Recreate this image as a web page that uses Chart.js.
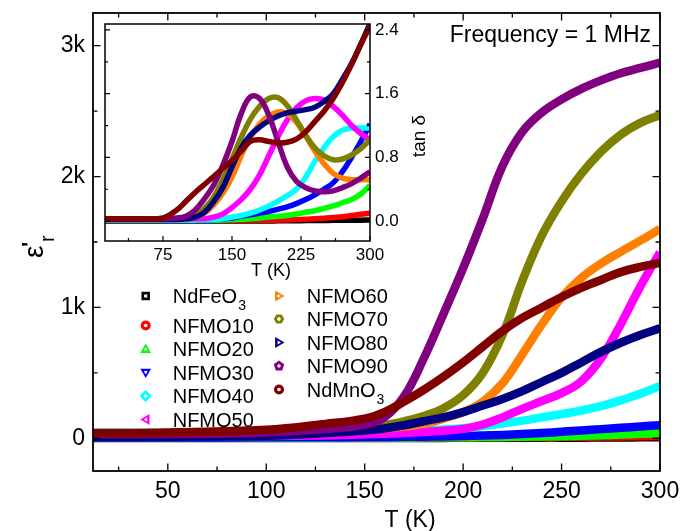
<!DOCTYPE html>
<html>
<head>
<meta charset="utf-8">
<script src="https://cdn.jsdelivr.net/npm/chart.js@4.4.1/dist/chart.umd.min.js"></script>
<style>
  body { margin: 0; background: #fff; }
  #wrap { position: relative; width: 685px; height: 531px; }
  #wrap canvas { position: absolute; left: 0; top: 0; }
</style>
</head>
<body>
<div id="wrap">
  <canvas id="main" width="685" height="531"></canvas>
  <canvas id="inset" width="685" height="531"></canvas>
</div>
<script>
// ---------- data: main plot, eps'_r vs T ----------
const seriesNames = ['NdFeO3', 'NFMO10', 'NFMO20', 'NFMO30', 'NFMO40', 'NFMO50',
                     'NFMO60', 'NFMO70', 'NFMO80', 'NFMO90', 'NdMnO3'];
const seriesColors = ['#000000', '#ff0000', '#00ff00', '#0000ff', '#00ffff', '#ff00ff',
                      '#ff8000', '#808000', '#000080', '#800080', '#800000'];

const tMain = [12, 50, 100, 130, 150, 160, 170, 180, 190, 200, 210, 220, 230, 240, 250, 260, 270, 280, 290, 300];
const epsNdFeO3 = [3, 3, 3, 3, 3, 3, 3, 3, 3, 4, 4, 4, 4, 5, 5, 5, 6, 6, 7, 8];
const epsNFMO10 = [4, 4, 4, 4, 4, 5, 5, 5, 6, 6, 7, 8, 9, 10, 11, 12, 13, 14, 16, 18];
const epsNFMO20 = [5, 5, 5, 5, 6, 6, 6, 7, 7, 8, 9, 10, 12, 14, 16, 19, 23, 28, 34, 40];
const epsNFMO30 = [6, 6, 7, 8, 9, 10, 11, 12, 14, 17, 21, 26, 32, 40, 50, 60, 70, 80, 90, 100];
const epsNFMO40 = [43, 43, 44, 46, 50, 54, 58, 63, 68, 76, 93, 113, 135, 160, 185, 212, 245, 290, 340, 400];
const epsNFMO50 = [15, 15, 18, 22, 30, 35, 40, 48, 58, 72, 105, 160, 225, 285, 345, 435, 610, 870, 1160, 1420];
const epsNFMO60 = [25, 25, 35, 50, 60, 75, 90, 110, 150, 200, 280, 420, 640, 870, 1075, 1225, 1335, 1425, 1510, 1600];
const epsNFMO70 = [25, 25, 40, 60, 80, 100, 130, 170, 230, 330, 500, 790, 1200, 1550, 1810, 2020, 2190, 2320, 2410, 2470];
const epsNFMO80 = [10, 12, 20, 40, 60, 75, 100, 130, 160, 200, 250, 300, 360, 430, 500, 580, 660, 730, 790, 840];
const epsNFMO90 = [30, 32, 45, 70, 105, 160, 320, 610, 950, 1300, 1680, 2080, 2340, 2490, 2590, 2670, 2735, 2790, 2830, 2870];
const epsNdMnO3 = [40, 45, 65, 110, 150, 200, 280, 370, 470, 580, 700, 820, 920, 1000, 1080, 1150, 1210, 1270, 1310, 1340];

// ---------- data: inset, tan delta vs T ----------
const tInset = [12, 50, 75, 90, 100, 110, 120, 130, 140, 150, 160, 170, 180, 190, 200, 210, 220, 230, 240, 250, 260, 270, 280, 290, 300];
const tanNdFeO3 = [0, 0, 0, 0, 0, 0, 0, 0, 0, 0, 0, 0, 0, 0, 0.003, 0.004, 0.005, 0.006, 0.007, 0.008, 0.009, 0.01, 0.011, 0.012, 0.014];
const tanNFMO10 = [0.01, 0.01, 0.01, 0.01, 0.01, 0.01, 0.01, 0.01, 0.01, 0.01, 0.01, 0.01, 0.01, 0.01, 0.012, 0.015, 0.02, 0.022, 0.03, 0.035, 0.045, 0.055, 0.07, 0.085, 0.1];
const tanNFMO20 = [0.01, 0.01, 0.01, 0.01, 0.01, 0.01, 0.01, 0.012, 0.015, 0.02, 0.022, 0.03, 0.04, 0.05, 0.06, 0.07, 0.09, 0.11, 0.13, 0.16, 0.19, 0.23, 0.27, 0.34, 0.45];
const tanNFMO30 = [0.01, 0.01, 0.01, 0.01, 0.01, 0.012, 0.015, 0.02, 0.03, 0.04, 0.06, 0.08, 0.1, 0.12, 0.15, 0.18, 0.22, 0.27, 0.33, 0.4, 0.48, 0.62, 0.8, 1.0, 1.22];
const tanNFMO40 = [0.01, 0.01, 0.01, 0.01, 0.01, 0.012, 0.015, 0.02, 0.03, 0.05, 0.07, 0.1, 0.14, 0.19, 0.25, 0.32, 0.4, 0.55, 0.75, 0.92, 1.06, 1.14, 1.17, 1.17, 1.17];
const tanNFMO50 = [0.02, 0.02, 0.02, 0.02, 0.02, 0.03, 0.03, 0.05, 0.09, 0.17, 0.27, 0.4, 0.58, 0.82, 1.06, 1.27, 1.42, 1.51, 1.54, 1.52, 1.44, 1.33, 1.2, 1.1, 1.02];
const tanNFMO60 = [0.02, 0.02, 0.02, 0.03, 0.03, 0.05, 0.1, 0.2, 0.35, 0.55, 0.82, 1.05, 1.22, 1.32, 1.37, 1.35, 1.24, 1.07, 0.88, 0.72, 0.6, 0.54, 0.52, 0.52, 0.52];
const tanNFMO70 = [0.03, 0.03, 0.03, 0.03, 0.04, 0.07, 0.16, 0.3, 0.52, 0.78, 1.05, 1.28, 1.44, 1.54, 1.55, 1.45, 1.27, 1.08, 0.92, 0.82, 0.77, 0.78, 0.83, 0.91, 1.02];
const tanNFMO80 = [0.02, 0.02, 0.02, 0.02, 0.03, 0.05, 0.11, 0.24, 0.42, 0.68, 0.92, 1.08, 1.18, 1.26, 1.32, 1.36, 1.38, 1.4, 1.43, 1.5, 1.6, 1.78, 1.98, 2.22, 2.48];
const tanNFMO90 = [0.03, 0.03, 0.03, 0.04, 0.06, 0.14, 0.28, 0.45, 0.7, 1.0, 1.35, 1.56, 1.54, 1.33, 1.0, 0.68, 0.5, 0.42, 0.38, 0.37, 0.38, 0.42, 0.47, 0.54, 0.62];
const tanNdMnO3 = [0.03, 0.03, 0.04, 0.14, 0.25, 0.36, 0.46, 0.56, 0.66, 0.76, 0.88, 1.0, 1.02, 1.0, 0.98, 0.99, 1.03, 1.12, 1.25, 1.38, 1.54, 1.74, 1.97, 2.22, 2.45];

// ---------- ticks ----------
const mainXTicks = [50, 100, 150, 200, 250, 300];
const mainXMinor = [25, 75, 125, 175, 225, 275];
const mainYTicks = [0, 1000, 2000, 3000];
const mainYMinor = [500, 1500, 2500];
const insetXTicks = [75, 150, 225, 300];
const insetXMinor = [37.5, 112.5, 187.5, 262.5];
const insetYTicks = [0, 0.8, 1.6, 2.4];
const insetYMinor = [0.4, 1.2, 2.0];

const epsSeries = [epsNdFeO3, epsNFMO10, epsNFMO20, epsNFMO30, epsNFMO40, epsNFMO50,
                   epsNFMO60, epsNFMO70, epsNFMO80, epsNFMO90, epsNdMnO3];
const tanSeries = [tanNdFeO3, tanNFMO10, tanNFMO20, tanNFMO30, tanNFMO40, tanNFMO50,
                   tanNFMO60, tanNFMO70, tanNFMO80, tanNFMO90, tanNdMnO3];

// legend marker shapes (style only)
const markerShapes = ['square', 'circle', 'triUp', 'triDown', 'diamond', 'triLeft',
                      'triRight', 'hex', 'triRight', 'pent', 'circle'];

const FONT = '"Liberation Sans", Arial, sans-serif';
Chart.defaults.font.family = FONT;
Chart.defaults.color = '#000';

function buildDatasets(xs, series, width) {
  return series.map((vals, i) => ({
    label: seriesNames[i],
    data: xs.map((t, j) => ({ x: t, y: vals[j] })),
    borderColor: seriesColors[i],
    borderWidth: width,
    pointRadius: 0,
    fill: false,
    tension: 0.4,
    clip: 0,
    order: series.length - 1 - i
  }));
}

function drawFrameTicks(chart, spec) {
  const { ctx, chartArea: a } = chart;
  const xs = chart.scales.x, ys = chart.scales.y;
  ctx.save();
  ctx.strokeStyle = '#000';
  ctx.lineWidth = spec.lw;
  ctx.beginPath();
  const vert = (vals, len) => vals.forEach(v => {
    const p = xs.getPixelForValue(v);
    if (spec.bottom) { ctx.moveTo(p, a.bottom); ctx.lineTo(p, a.bottom - len); }
    if (spec.top) { ctx.moveTo(p, a.top); ctx.lineTo(p, a.top + len); }
  });
  const horiz = (vals, len) => vals.forEach(v => {
    const p = ys.getPixelForValue(v);
    if (spec.left) { ctx.moveTo(a.left, p); ctx.lineTo(a.left + len, p); }
    if (spec.right) { ctx.moveTo(a.right, p); ctx.lineTo(a.right - len, p); }
  });
  vert(spec.xMajor, spec.major); vert(spec.xMinor, spec.minor);
  horiz(spec.yMajor, spec.major); horiz(spec.yMinor, spec.minor);
  ctx.stroke();
  ctx.lineWidth = spec.frame;
  ctx.strokeRect(a.left, a.top, a.right - a.left, a.bottom - a.top);
  ctx.restore();
}

function polygon(ctx, cx, cy, r, n, start) {
  ctx.beginPath();
  for (let k = 0; k < n; k++) {
    const ang = start + k * 2 * Math.PI / n;
    const px = cx + r * Math.cos(ang), py = cy + r * Math.sin(ang);
    k ? ctx.lineTo(px, py) : ctx.moveTo(px, py);
  }
  ctx.closePath();
}

function shapePath(ctx, shape, cx, cy, r) {
  const d = Math.PI / 180;
  switch (shape) {
    case 'square': polygon(ctx, cx, cy, r * 1.2, 4, 45 * d); break;
    case 'circle': ctx.beginPath(); ctx.arc(cx, cy, r, 0, 2 * Math.PI); break;
    case 'triUp': polygon(ctx, cx, cy + r * 0.15, r * 1.25, 3, -90 * d); break;
    case 'triDown': polygon(ctx, cx, cy - r * 0.15, r * 1.25, 3, 90 * d); break;
    case 'triLeft': polygon(ctx, cx + r * 0.15, cy, r * 1.25, 3, 180 * d); break;
    case 'triRight': polygon(ctx, cx - r * 0.15, cy, r * 1.25, 3, 0); break;
    case 'diamond': polygon(ctx, cx, cy, r * 1.2, 4, -90 * d); break;
    case 'hex': polygon(ctx, cx, cy, r * 1.05, 6, 0); break;
    case 'pent': polygon(ctx, cx, cy, r * 1.1, 5, -90 * d); break;
  }
}

function drawSubLabel(ctx, text, x, baseline, size) {
  const m = text.match(/^(.*O)(3)$/);
  ctx.font = size + 'px ' + FONT;
  if (!m) { ctx.fillText(text, x, baseline); return; }
  ctx.fillText(m[1], x, baseline);
  const w = ctx.measureText(m[1]).width;
  ctx.font = Math.round(size * 0.7) + 'px ' + FONT;
  ctx.fillText(m[2], x + w + 1, baseline + 7);
}

const legendLeftRows = [296, 325.5, 349, 372.5, 396, 419.5];
const legendRightRows = [296, 319, 342.5, 366, 389.5];

const mainDecor = {
  id: 'mainDecor',
  afterDraw(chart) {
    const ctx = chart.ctx;
    drawFrameTicks(chart, {
      lw: 1.3, frame: 1.8, major: 7.5, minor: 4.5,
      xMajor: mainXTicks, xMinor: mainXMinor, yMajor: mainYTicks, yMinor: mainYMinor,
      bottom: true, top: true, left: true, right: true
    });
    ctx.save();
    ctx.fillStyle = '#000';
    ctx.textBaseline = 'alphabetic';

    // x title
    ctx.font = '23px ' + FONT;
    ctx.textAlign = 'center';
    ctx.fillText('T (K)', 410, 527);

    // y title: eps'_r, rotated
    ctx.save();
    ctx.translate(43, 258);
    ctx.rotate(-Math.PI / 2);
    ctx.textAlign = 'left';
    ctx.font = '28px ' + FONT;
    ctx.fillText('\u03b5', 0, 0);
    ctx.font = 'bold 22px ' + FONT;
    ctx.fillText("'", 11, -6);
    ctx.font = '20px ' + FONT;
    ctx.fillText('r', 16, 11);
    ctx.restore();

    // frequency note
    ctx.font = '23px ' + FONT;
    ctx.textAlign = 'right';
    ctx.fillText('Frequency = 1 MHz', 651, 42);

    // legend
    ctx.textAlign = 'left';
    chart.data.datasets.forEach((ds, i) => {
      const left = i < legendLeftRows.length;
      const y = left ? legendLeftRows[i] : legendRightRows[i - legendLeftRows.length];
      const mx = left ? 145.7 : 279;
      const tx = left ? 172.7 : 306.7;
      ctx.fillStyle = ds.borderColor;
      shapePath(ctx, markerShapes[i], mx, y, 5);
      ctx.fill();
      ctx.fillStyle = '#fff';
      shapePath(ctx, markerShapes[i], mx, y, 1.8);
      ctx.fill();
      ctx.fillStyle = '#000';
      drawSubLabel(ctx, ds.label, tx, y + 7, 20);
    });
    ctx.restore();
  }
};

const insetDecor = {
  id: 'insetDecor',
  afterDraw(chart) {
    const ctx = chart.ctx;
    drawFrameTicks(chart, {
      lw: 1.2, frame: 1.5, major: 5, minor: 3,
      xMajor: insetXTicks, xMinor: insetXMinor, yMajor: insetYTicks, yMinor: insetYMinor,
      bottom: true, top: false, left: true, right: true
    });
    ctx.save();
    ctx.fillStyle = '#000';
    ctx.textBaseline = 'alphabetic';
    ctx.textAlign = 'center';
    ctx.font = '18px ' + FONT;
    ctx.fillText('T (K)', 271, 276);
    ctx.translate(425, 136);
    ctx.rotate(-Math.PI / 2);
    ctx.font = '19px ' + FONT;
    ctx.fillText('tan \u03b4', 0, 0);
    ctx.restore();
  }
};

const insetBg = {
  id: 'insetBg',
  beforeDatasetsDraw(chart) {
    const { ctx, chartArea: a } = chart;
    ctx.save();
    ctx.fillStyle = '#fff';
    ctx.fillRect(a.left, a.top, a.right - a.left, a.bottom - a.top);
    ctx.restore();
  }
};

new Chart(document.getElementById('main'), {
  type: 'line',
  data: { datasets: buildDatasets(tMain, epsSeries, 8.5) },
  options: {
    responsive: false,
    animation: false,
    devicePixelRatio: 1,
    layout: { padding: { left: 0, right: 25, top: 13, bottom: 0 } },
    plugins: { legend: { display: false }, tooltip: { enabled: false } },
    scales: {
      x: {
        type: 'linear', min: 12, max: 300,
        afterBuildTicks: s => { s.ticks = mainXTicks.map(v => ({ value: v })); },
        afterFit: s => { s.height = 60; s.paddingLeft = 0; s.paddingRight = 0; },
        grid: { display: false, drawTicks: false },
        border: { display: false },
        ticks: { font: { size: 23 }, color: '#000', padding: 7, maxRotation: 0 }
      },
      y: {
        type: 'linear', min: -250, max: 3250,
        afterBuildTicks: s => { s.ticks = mainYTicks.map(v => ({ value: v })); },
        afterFit: s => { s.width = 93; s.paddingTop = 0; s.paddingBottom = 0; },
        grid: { display: false, drawTicks: false },
        border: { display: false },
        ticks: {
          font: { size: 23 }, color: '#000', padding: 8,
          callback: v => v === 0 ? '0' : (v / 1000) + 'k'
        }
      }
    }
  },
  plugins: [mainDecor]
});

new Chart(document.getElementById('inset'), {
  type: 'line',
  data: { datasets: buildDatasets(tInset, tanSeries, 5.5) },
  options: {
    responsive: false,
    animation: false,
    devicePixelRatio: 1,
    layout: { padding: { left: 105, right: 265, top: 24, bottom: 250 } },
    plugins: { legend: { display: false }, tooltip: { enabled: false } },
    scales: {
      x: {
        type: 'linear', min: 12, max: 300,
        afterBuildTicks: s => { s.ticks = insetXTicks.map(v => ({ value: v })); },
        afterFit: s => { s.height = 40; s.paddingLeft = 0; s.paddingRight = 0; },
        grid: { display: false, drawTicks: false },
        border: { display: false },
        ticks: { font: { size: 17 }, color: '#000', padding: 4, maxRotation: 0 }
      },
      y: {
        type: 'linear', position: 'right', min: -0.25, max: 2.475,
        afterBuildTicks: s => { s.ticks = insetYTicks.map(v => ({ value: v })); },
        afterFit: s => { s.width = 50; s.paddingTop = 0; s.paddingBottom = 0; },
        grid: { display: false, drawTicks: false },
        border: { display: false },
        ticks: { font: { size: 17 }, color: '#000', padding: 5, callback: v => v.toFixed(1) }
      }
    }
  },
  plugins: [insetBg, insetDecor]
});
</script>
</body>
</html>
